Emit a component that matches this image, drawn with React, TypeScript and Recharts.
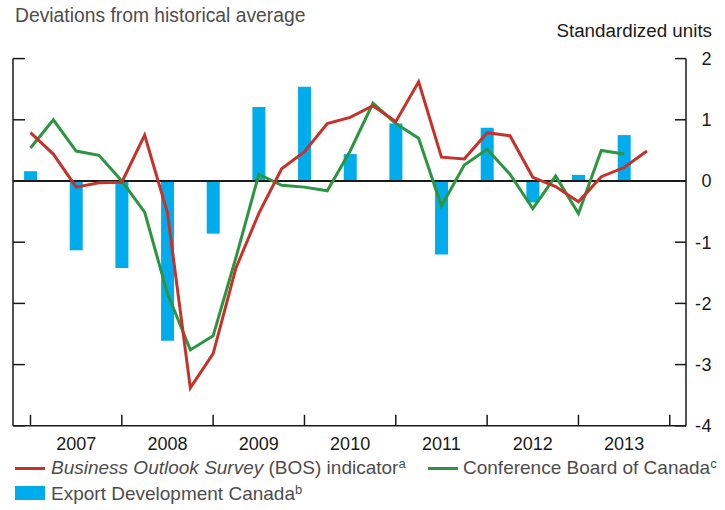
import { ComposedChart, Bar, Line, XAxis, YAxis, ReferenceLine } from "recharts";

// quarterly observations, 2007Q1 .. 2013Q4
const quarters = [
  "2007Q1", "2007Q2", "2007Q3", "2007Q4",
  "2008Q1", "2008Q2", "2008Q3", "2008Q4",
  "2009Q1", "2009Q2", "2009Q3", "2009Q4",
  "2010Q1", "2010Q2", "2010Q3", "2010Q4",
  "2011Q1", "2011Q2", "2011Q3", "2011Q4",
  "2012Q1", "2012Q2", "2012Q3", "2012Q4",
  "2013Q1", "2013Q2", "2013Q3", "2013Q4",
];

const bosIndicator = [
  0.79, 0.44, -0.1, -0.03, -0.02, 0.75, -0.52, -3.38,
  -2.82, -1.42, -0.53, 0.2, 0.48, 0.94, 1.04, 1.23,
  0.97, 1.62, 0.39, 0.36, 0.79, 0.74, 0.06, -0.09,
  -0.34, 0.07, 0.22, 0.49,
];

const conferenceBoard = [
  0.54, 1.0, 0.49, 0.42, 0.0, -0.51, -1.84, -2.76,
  -2.53, -1.25, 0.11, -0.07, -0.1, -0.16, 0.49, 1.27,
  0.94, 0.7, -0.41, 0.26, 0.52, 0.11, -0.45, 0.08,
  -0.53, 0.5, 0.44, null,
];

// semi-annual survey, shown on the first quarter of each half
const exportDevelopment = [
  0.16, null, -1.13, null, -1.42, null, -2.61, null,
  -0.86, null, 1.21, null, 1.54, null, 0.44, null,
  0.94, null, -1.2, null, 0.87, null, -0.35, null,
  0.1, null, 0.75, null,
];

const yearLabels = ["2007", "2008", "2009", "2010", "2011", "2012", "2013"];
const yearBoundaryTicks = [0, 4, 8, 12, 16, 20, 24, 28];
const yearLabelTicks = [2, 6, 10, 14, 18, 22, 26];
const valueTicks = [-4, -3, -2, -1, 0, 1, 2];

const RED = "#c8312a";
const GREEN = "#2b963f";
const BLUE = "#00acec";
const AXIS = "#1a1a1a";
const FONT = "'Liberation Sans', Arial, Helvetica, sans-serif";

const data = quarters.map((q, i) => ({
  q,
  i,
  bos: bosIndicator[i],
  cb: conferenceBoard[i],
  edc: exportDevelopment[i],
}));

// tick marks only, no label
const NoLabel = () => <g />;

function RightTick(props: any) {
  const { x, y, payload } = props;
  const v = payload.value as number;
  return (
    <g fill={AXIS} fontSize={18} fontFamily={FONT}>
      {v < 0 && (
        <text x={x - 0.5} y={y} dy="0.36em" textAnchor="end">
          -
        </text>
      )}
      <text x={x} y={y} dy="0.36em" textAnchor="start">
        {Math.abs(v)}
      </text>
    </g>
  );
}

const legendText: React.CSSProperties = {
  position: "absolute",
  fontSize: 19,
  color: "#4d4d4d",
  whiteSpace: "nowrap",
  lineHeight: "20px",
};

const sup: React.CSSProperties = { fontSize: 13, position: "relative", top: -6 };

export default function App() {
  return (
    <div
      style={{
        position: "absolute",
        left: 0,
        top: 0,
        width: 725,
        height: 510,
        background: "#fff",
        fontFamily: FONT,
      }}
    >
      <div style={{ position: "absolute", left: 15, top: 5, fontSize: 19.3, color: "#4d4d4d", whiteSpace: "nowrap" }}>
        Deviations from historical average
      </div>
      <div style={{ position: "absolute", right: 13, top: 20, fontSize: 18.8, color: AXIS, whiteSpace: "nowrap" }}>
        Standardized units
      </div>

      <ComposedChart
        width={725}
        height={510}
        data={data}
        margin={{ top: 58.6, right: 0, left: 13, bottom: 54.2 }}
      >
        <XAxis
          xAxisId="q"
          dataKey="i"
          type="number"
          domain={[-0.766, 28.71]}
          ticks={yearBoundaryTicks}
          interval={0}
          orientation="bottom"
          mirror
          height={12}
          tick={<NoLabel />}
          tickSize={11}
          tickLine={{ stroke: AXIS, strokeWidth: 1.5 }}
          axisLine={{ stroke: AXIS, strokeWidth: 1.5 }}
        />
        <XAxis
          xAxisId="lbl"
          dataKey="i"
          type="number"
          domain={[-0.766, 28.71]}
          ticks={yearLabelTicks}
          interval={0}
          orientation="bottom"
          height={30}
          axisLine={false}
          tickLine={false}
          tickSize={0}
          tickMargin={11}
          tickFormatter={(v: number) => yearLabels[(v - 2) / 4]}
          tick={{ fill: AXIS, fontSize: 18, fontFamily: FONT }}
        />
        <YAxis
          yAxisId="leftTicks"
          dataKey="bos"
          orientation="left"
          mirror
          width={12}
          type="number"
          domain={[-4, 2]}
          allowDataOverflow
          ticks={valueTicks}
          interval={0}
          tick={<NoLabel />}
          tickSize={12}
          tickLine={{ stroke: AXIS, strokeWidth: 1.5 }}
          axisLine={{ stroke: AXIS, strokeWidth: 1.5 }}
        />
        <YAxis
          yAxisId="rightTicks"
          dataKey="bos"
          orientation="right"
          mirror
          width={12}
          type="number"
          domain={[-4, 2]}
          allowDataOverflow
          ticks={valueTicks}
          interval={0}
          tick={<NoLabel />}
          tickSize={11}
          tickLine={{ stroke: AXIS, strokeWidth: 1.5 }}
          axisLine={{ stroke: AXIS, strokeWidth: 1.5 }}
        />
        <YAxis
          yAxisId="val"
          orientation="right"
          width={39}
          type="number"
          domain={[-4, 2]}
          ticks={valueTicks}
          interval={0}
          axisLine={false}
          tickLine={false}
          tickSize={0}
          tickMargin={15.5}
          tick={<RightTick />}
        />
        <Bar
          xAxisId="q"
          yAxisId="val"
          dataKey="edc"
          fill={BLUE}
          barSize={13}
          isAnimationActive={false}
        />
        <ReferenceLine xAxisId="q" yAxisId="val" y={0} stroke={AXIS} strokeWidth={2} />
        <Line
          xAxisId="q"
          yAxisId="val"
          dataKey="cb"
          stroke={GREEN}
          strokeWidth={3}
          dot={false}
          type="linear"
          isAnimationActive={false}
        />
        <Line
          xAxisId="q"
          yAxisId="val"
          dataKey="bos"
          stroke={RED}
          strokeWidth={3}
          dot={false}
          type="linear"
          isAnimationActive={false}
        />
      </ComposedChart>

      {/* legend */}
      <div style={{ position: "absolute", left: 15, top: 467, width: 30, height: 3, background: RED }} />
      <div style={{ ...legendText, left: 51, top: 458 }}>
        <i>Business Outlook Survey</i> (BOS) indicator<span style={sup}>a</span>
      </div>
      <div style={{ position: "absolute", left: 428, top: 467, width: 30, height: 3, background: GREEN }} />
      <div style={{ ...legendText, left: 463, top: 458 }}>
        Conference Board of Canada<span style={sup}>c</span>
      </div>
      <div style={{ position: "absolute", left: 15, top: 486, width: 30, height: 14, background: BLUE }} />
      <div style={{ ...legendText, left: 51, top: 484 }}>
        Export Development Canada<span style={sup}>b</span>
      </div>
    </div>
  );
}
